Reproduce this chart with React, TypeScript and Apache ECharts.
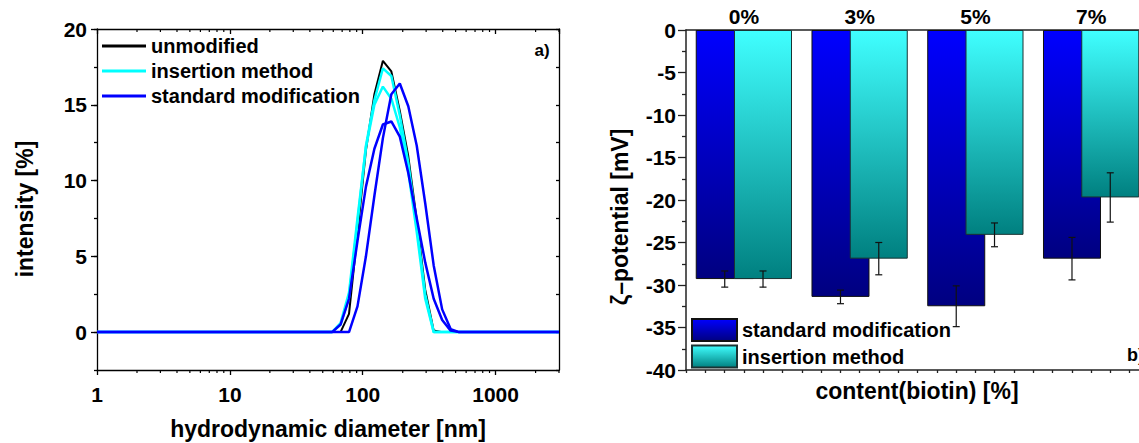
import React, { useEffect, useRef } from "react";
import * as echarts from "echarts";

// ---------- data: left panel (DLS size distribution) ----------
const diameters = [1, 58.77, 68.06, 78.82, 91.28, 105.7, 122.4, 141.8, 164.2, 190.1, 220.2, 255.0, 295.3, 342.0, 396.1, 458.7, 531.2, 3000];
const unmodified = [0, 0, 0, 1.2, 6.5, 12.0, 15.7, 17.9, 17.2, 14.6, 11.6, 7.4, 2.8, 0.1, 0, 0, 0, 0];
const insertion1 = [0, 0, 0.5, 2.3, 7.2, 12.3, 15.3, 17.4, 16.9, 14.3, 11.2, 7.0, 2.5, 0, 0, 0, 0, 0];
const insertion2 = [0, 0, 0.6, 2.6, 7.5, 12.2, 15.0, 16.2, 15.4, 13.5, 10.6, 6.6, 2.2, 0, 0, 0, 0, 0];
const standard1 = [0, 0, 0, 0, 1.7, 5.0, 9.0, 12.8, 15.7, 16.4, 14.9, 12.3, 8.5, 4.4, 1.5, 0.2, 0, 0];
const standard2 = [0, 0, 0.5, 2.2, 6.0, 9.6, 12.1, 13.7, 13.9, 12.9, 10.5, 7.5, 4.6, 2.2, 0.8, 0.1, 0, 0];
const intensityTicks = [0, 5, 10, 15, 20];
const logMinorTicks = [2, 3, 4, 5, 6, 7, 8, 9, 20, 30, 40, 50, 60, 70, 80, 90, 200, 300, 400, 500, 600, 700, 800, 900, 2000, 3000];

// ---------- data: right panel (zeta potential) ----------
const contentLabels = ["0%", "3%", "5%", "7%"];
const standardZeta = [-29.3, -31.4, -32.5, -26.9];
const standardErr = [0.95, 0.8, 2.4, 2.5];
const insertionZeta = [-29.3, -26.9, -24.1, -19.7];
const insertionErr = [0.95, 1.9, 1.4, 2.9];

const FONT = '"Liberation Sans", Arial, Helvetica, sans-serif';
const BLACK = "#000";
const BAR_W = 58;
const BAR_GAP = -0.34;
const BAR_OFFSET = (BAR_W * (1 + BAR_GAP)) / 2;
const GLOBAL_TEXT = { fontFamily: FONT, fontWeight: "bold", color: BLACK };
const TICK_RICH = { t: { fontFamily: FONT, fontWeight: "bold", fontSize: 21, color: BLACK } };
const tickFmt = (v: number) => `{t|${Math.round(v * 100) / 100}}`;

const pairs = (ys: number[]) => diameters.map((d, i) => [d, ys[i]]);

function leftOption(): any {
  const axisLine = { show: true, onZero: false, lineStyle: { color: BLACK, width: 1.3 } };
  const tickStyle = { color: BLACK, width: 1.3 };
  const labelStyle = { fontFamily: FONT, fontWeight: "bold", fontSize: 21, color: BLACK, rich: TICK_RICH, formatter: tickFmt };
  const lineSeries = (name: string, ys: number[], color: string, width: number) => ({
    name,
    type: "line",
    data: pairs(ys),
    symbol: "none",
    showSymbol: false,
    smooth: false,
    lineStyle: { color, width },
    itemStyle: { color },
  });
  return {
    animation: false,
    textStyle: GLOBAL_TEXT,
    grid: { left: 97, top: 29, width: 462, height: 341, show: false },
    xAxis: [
      {
        type: "log",
        logBase: 10,
        min: 1,
        max: 3000,
        position: "bottom",
        axisLine,
        axisTick: { show: true, inside: false, length: 5, lineStyle: tickStyle },
        axisLabel: { ...labelStyle, margin: 14, showMaxLabel: false, formatter: (v: number) => `{t|${Math.round(v)}}` },
        splitLine: { show: false },
      },
      {
        type: "log",
        logBase: 10,
        min: 1,
        max: 3000,
        position: "top",
        axisLine,
        axisTick: { show: true, inside: true, length: 5, lineStyle: tickStyle },
        axisLabel: { show: false },
        splitLine: { show: false },
      },
    ],
    yAxis: [
      {
        type: "value",
        min: -2.5,
        max: 20,
        position: "left",
        axisLine,
        axisTick: { show: true, length: 6, customValues: intensityTicks, lineStyle: tickStyle },
        axisLabel: { ...labelStyle, margin: 10, customValues: intensityTicks },
        splitLine: { show: false },
      },
      {
        type: "value",
        min: -2.5,
        max: 20,
        interval: 2.5,
        position: "left",
        axisLine: { show: false },
        axisTick: { show: true, length: 3, lineStyle: tickStyle },
        axisLabel: { show: false },
        splitLine: { show: false },
      },
      {
        type: "value",
        min: -2.5,
        max: 20,
        interval: 2.5,
        position: "right",
        axisLine,
        axisTick: { show: true, inside: true, length: 3, lineStyle: tickStyle },
        axisLabel: { show: false },
        splitLine: { show: false },
      },
    ],
    legend: {
      data: ["unmodified", "insertion method", "standard modification"],
      orient: "vertical",
      left: 97,
      top: 31,
      padding: 5,
      icon: "rect",
      itemWidth: 44,
      itemHeight: 3,
      itemGap: 5,
      selectedMode: false,
      textStyle: { fontFamily: FONT, fontWeight: "bold", fontSize: 20, color: BLACK, lineHeight: 20 },
    },
    series: [
      lineSeries("unmodified", unmodified, "#000000", 2),
      lineSeries("insertion method", insertion1, "#00FFFF", 2.5),
      lineSeries("insertion method", insertion2, "#00FFFF", 2.5),
      lineSeries("standard modification", standard1, "#0000FF", 2.5),
      lineSeries("standard modification", standard2, "#0000FF", 2.5),
      {
        type: "custom",
        silent: true,
        data: logMinorTicks.map((v) => [v, 0]),
        renderItem: (params: any, api: any) => {
          const x = api.coord([api.value(0), 0])[0];
          const cs = params.coordSys;
          const bottom = cs.y + cs.height;
          const top = cs.y;
          const style = { stroke: BLACK, lineWidth: 1.2 };
          return {
            type: "group",
            children: [
              { type: "line", shape: { x1: x, y1: bottom, x2: x, y2: bottom + 3 }, style },
              { type: "line", shape: { x1: x, y1: top, x2: x, y2: top + 3 }, style },
            ],
          };
        },
      },
    ],
    graphic: [
      {
        type: "text",
        x: 328,
        y: 429,
        style: { text: "hydrodynamic diameter [nm]", fontFamily: FONT, fontWeight: "bold", fontSize: 23, fill: BLACK, align: "center", verticalAlign: "middle" },
      },
      {
        type: "text",
        x: 25,
        y: 209,
        rotation: Math.PI / 2,
        style: { text: "intensity [%]", fontFamily: FONT, fontWeight: "bold", fontSize: 23, fill: BLACK, align: "center", verticalAlign: "middle" },
      },
      {
        type: "text",
        x: 542,
        y: 50,
        style: { text: "a)", fontFamily: FONT, fontWeight: "bold", fontSize: 17, fill: BLACK, align: "center", verticalAlign: "middle" },
      },
    ],
  };
}

function rightOption(): any {
  const axisLine = { show: true, onZero: false, lineStyle: { color: "#222", width: 1.5 } };
  const tickStyle = { color: "#222", width: 1.3 };
  const labelStyle = { fontFamily: FONT, fontWeight: "bold", fontSize: 21, color: BLACK };
  const blueGrad = new echarts.graphic.LinearGradient(0, 0, 0, 1, [
    { offset: 0, color: "#0000FF" },
    { offset: 1, color: "#000080" },
  ]);
  const cyanGrad = new echarts.graphic.LinearGradient(0, 0, 0, 1, [
    { offset: 0, color: "#40FFFF" },
    { offset: 1, color: "#008080" },
  ]);
  const errData = [
    ...standardZeta.map((v, i) => [i, v, standardErr[i], -1]),
    ...insertionZeta.map((v, i) => [i, v, insertionErr[i], 1]),
  ];
  return {
    animation: false,
    textStyle: GLOBAL_TEXT,
    grid: { left: 106, top: 30, width: 463, height: 340, show: false },
    xAxis: [
      {
        type: "category",
        data: contentLabels,
        position: "top",
        axisLine,
        axisTick: { show: false },
        axisLabel: { ...labelStyle, margin: 3 },
        splitLine: { show: false },
      },
      {
        type: "value",
        min: 0,
        max: 24,
        interval: 1,
        position: "bottom",
        axisLine,
        axisTick: { show: true, length: 3, lineStyle: tickStyle },
        axisLabel: { show: false },
        splitLine: { show: false },
      },
    ],
    yAxis: {
      type: "value",
      min: -40,
      max: 0,
      interval: 5,
      position: "left",
      axisLine,
      axisTick: { show: true, length: 8, lineStyle: tickStyle },
      minorTick: { show: true, splitNumber: 2, length: 4, lineStyle: tickStyle },
      axisLabel: { ...labelStyle, margin: 10, rich: TICK_RICH, formatter: tickFmt },
      splitLine: { show: false },
    },
    legend: {
      data: ["standard modification", "insertion method"],
      orient: "vertical",
      left: 106,
      top: 313,
      padding: 5,
      itemWidth: 45,
      itemHeight: 22,
      itemGap: 2.5,
      icon: "rect",
      selectedMode: false,
      textStyle: { fontFamily: FONT, fontWeight: "bold", fontSize: 20, color: BLACK, lineHeight: 20 },
    },
    series: [
      {
        name: "standard modification",
        type: "bar",
        xAxisIndex: 0,
        data: standardZeta,
        barWidth: BAR_W,
        barGap: `${BAR_GAP * 100}%`,
        itemStyle: { color: blueGrad, borderColor: "#111", borderWidth: 1 },
      },
      {
        name: "insertion method",
        type: "bar",
        xAxisIndex: 0,
        data: insertionZeta,
        barWidth: BAR_W,
        barGap: `${BAR_GAP * 100}%`,
        itemStyle: { color: cyanGrad, borderColor: "#1a3333", borderWidth: 1 },
      },
      {
        type: "custom",
        xAxisIndex: 0,
        silent: true,
        z: 10,
        data: errData,
        encode: { x: 0, y: 1 },
        renderItem: (params: any, api: any) => {
          const i = api.value(0);
          const v = api.value(1);
          const e = api.value(2);
          const side = api.value(3);
          const x = api.coord([i, v])[0] + side * BAR_OFFSET;
          const top = api.coord([i, v + e])[1];
          const bot = api.coord([i, v - e])[1];
          const cap = 3.5;
          const style = { stroke: "#111", lineWidth: 1.2 };
          return {
            type: "group",
            children: [
              { type: "line", shape: { x1: x, y1: top, x2: x, y2: bot }, style },
              { type: "line", shape: { x1: x - cap, y1: top, x2: x + cap, y2: top }, style },
              { type: "line", shape: { x1: x - cap, y1: bot, x2: x + cap, y2: bot }, style },
            ],
          };
        },
      },
    ],
    graphic: [
      {
        type: "text",
        x: 337,
        y: 391,
        style: { text: "content(biotin) [%]", fontFamily: FONT, fontWeight: "bold", fontSize: 23, fill: BLACK, align: "center", verticalAlign: "middle" },
      },
      {
        type: "text",
        x: 40,
        y: 217,
        rotation: Math.PI / 2,
        style: { text: "ζ–potential [mV]", fontFamily: FONT, fontWeight: "bold", fontSize: 23, fill: BLACK, align: "center", verticalAlign: "middle" },
      },
      {
        type: "text",
        x: 547,
        y: 355,
        style: { text: "b)", fontFamily: FONT, fontWeight: "bold", fontSize: 18, fill: BLACK, align: "left", verticalAlign: "middle" },
      },
    ],
  };
}

export default function App() {
  const leftRef = useRef<HTMLDivElement>(null);
  const rightRef = useRef<HTMLDivElement>(null);

  useEffect(() => {
    if (!leftRef.current || !rightRef.current) return;
    const left = echarts.init(leftRef.current, null, { renderer: "svg" });
    const right = echarts.init(rightRef.current, null, { renderer: "svg" });
    left.setOption(leftOption());
    right.setOption(rightOption());
    return () => {
      left.dispose();
      right.dispose();
    };
  }, []);

  return (
    <div style={{ position: "fixed", left: 0, top: 0, width: 1139, height: 443, overflow: "hidden", background: "#fff" }}>
      <div ref={leftRef} style={{ position: "absolute", left: 0, top: 0, width: 580, height: 443 }} />
      <div ref={rightRef} style={{ position: "absolute", left: 580, top: 0, width: 580, height: 443 }} />
    </div>
  );
}
